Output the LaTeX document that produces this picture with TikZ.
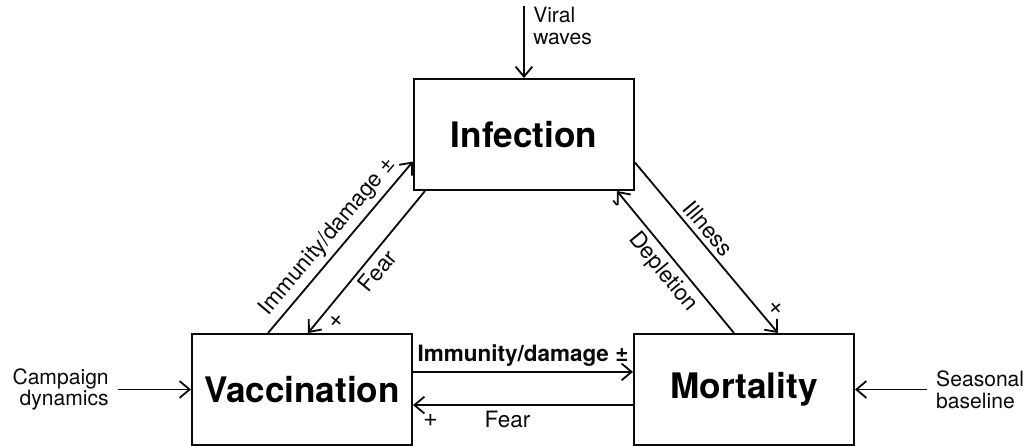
\documentclass[tikz,border=0pt]{standalone}
\usepackage{fontspec}
\setmainfont{TeX Gyre Heros}
\usepackage{tikz}
\usetikzlibrary{arrows.meta, positioning}
\definecolor{inkblack}{RGB}{10, 10, 10}

\begin{document}
\begin{tikzpicture}[
  node distance=1.8cm and 1.8cm,
  factor/.style={rectangle, draw=inkblack, line width=1.4pt, minimum width=5.5cm, minimum height=2.775cm, inner sep=0pt, font=\fontsize{25}{30}\selectfont\bfseries},
  driver/.style={inner sep=0.225cm, font=\fontsize{15}{15.5}\selectfont, text=inkblack},
  link/.style={draw=inkblack, line width=1.3pt, -{Straight Barb[length=0.25cm, width=0.42cm]}},
  tag/.style={font=\fontsize{16}{18}\selectfont, text=inkblack, sloped},
  sign/.style={font=\fontsize{18}{18}\selectfont, text=inkblack, sloped, inner sep=2pt}
]

  \useasboundingbox (-7.55,-1.4125) rectangle (18.075,9.7375);

  \node[factor] (vacc) at (0,0) {Vaccination};
  \node[factor, right=5.5cm of vacc] (mort) {Mortality};
  \node[factor, above right=3.55cm and 0cm of vacc.north east] (infection) {Infection};

  \node[driver, left=1.825cm of vacc, align=right] (campaign) {Campaign\\dynamics};
  \node[driver, right=1.8cm of mort, align=left] (seasonal) {Seasonal\\baseline};
  \coordinate[above=1.8cm of infection] (viral);
  \node[driver, anchor=north west, align=left] (viraltxt) at ([yshift=0.2cm]viral) {Viral\\waves};

  \draw[link] (campaign) -- (vacc);
  \draw[link] (seasonal) -- (mort);
  \draw[link] (viral) -- (infection);

  \draw[link] ([xshift=-0.85cm]vacc.north) -- ([yshift=-0.675cm]infection.west) node[tag, midway, above] {Immunity/damage ±};
  \draw[link] ([xshift=0.3cm]infection.south west) -- ([xshift=0.15cm]vacc.north) node[tag, midway, below] {Fear} node[sign, pos=0.85, below=3pt] {+};
  \draw[link] ([yshift=-0.7cm]infection.east) -- ([xshift=0.85cm]mort.north) node[tag, pos=0.44, above] {Illness} node[sign, pos=0.91, above=3pt] {+};
  \draw[link] ([xshift=-0.25cm]mort.north) -- ([xshift=-0.45cm]infection.south east) node[tag, midway, below] {Depletion} node[sign, pos=0.95, below=3pt] {-};

  \draw[link] ([yshift=0.44cm]vacc.east) -- ([yshift=0.44cm]mort.west) node[tag, midway, above, font=\fontsize{16}{18}\selectfont\bfseries] {Immunity/damage ±};
  \draw[link] ([yshift=-0.39cm]mort.west) -- ([yshift=-0.39cm]vacc.east) node[tag, pos=0.57, below] {Fear} node[sign, pos=0.92, below=4pt] {+};

\end{tikzpicture}
\end{document}
